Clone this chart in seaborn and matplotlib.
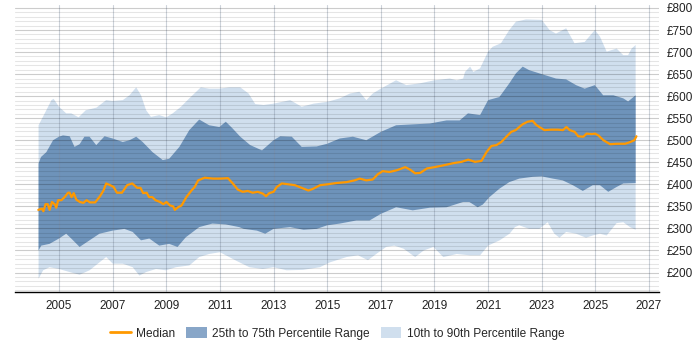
import numpy as np
import matplotlib
matplotlib.use("Agg")
import matplotlib.pyplot as plt
import seaborn as sns
from matplotlib.lines import Line2D
from matplotlib.patches import Patch
from matplotlib.ticker import MultipleLocator, FuncFormatter

# --- Data (decimal year, GBP) ---
p90_year = [2004.24, 2004.47, 2004.72, 2004.80, 2005.00, 2005.27, 2005.46, 2005.73, 2006.00, 2006.40,
            2006.76, 2007.00, 2007.38, 2007.63, 2007.88, 2008.06, 2008.25, 2008.43, 2008.74, 2009.00,
            2009.24, 2009.55, 2009.86, 2010.29, 2010.60, 2010.98, 2011.35, 2011.76, 2012.07, 2012.32,
            2012.63, 2013.00, 2013.62, 2014.05, 2014.49, 2015.00, 2015.47, 2015.85, 2016.20, 2016.46,
            2016.70, 2017.00, 2017.57, 2017.95, 2018.45, 2019.00, 2019.57, 2019.83, 2020.07, 2020.14,
            2020.33, 2020.45, 2020.70, 2021.00, 2021.17, 2021.48, 2021.79, 2022.04, 2022.41, 2023.00,
            2023.29, 2023.53, 2023.91, 2024.22, 2024.60, 2024.98, 2025.17, 2025.42, 2025.79, 2026.04,
            2026.22, 2026.35, 2026.50]
p90 = [534, 561, 591, 594, 576, 561, 561, 552, 568, 574,
       591, 589, 591, 602, 620, 602, 568, 553, 557, 552,
       561, 576, 595, 620, 617, 617, 620, 620, 606, 582,
       580, 583, 591, 576, 583, 587, 595, 606, 610, 591,
       606, 617, 636, 625, 629, 636, 640, 636, 640, 655,
       667, 655, 663, 701, 712, 720, 750, 769, 774, 773,
       750, 742, 754, 720, 723, 750, 735, 701, 708, 693,
       693, 708, 716]

p75_year = [2004.24, 2004.33, 2004.53, 2004.78, 2005.00, 2005.15, 2005.40, 2005.58, 2005.77, 2005.95,
            2006.14, 2006.39, 2006.70, 2007.00, 2007.38, 2007.63, 2007.88, 2008.12, 2008.49, 2008.87,
            2009.11, 2009.49, 2009.86, 2010.23, 2010.60, 2010.98, 2011.22, 2011.47, 2011.76, 2012.13,
            2012.57, 2013.00, 2013.25, 2013.68, 2014.05, 2014.61, 2015.00, 2015.47, 2015.96, 2016.46,
            2017.00, 2017.57, 2018.19, 2018.83, 2019.45, 2019.94, 2020.25, 2020.70, 2021.00, 2021.42,
            2021.79, 2022.04, 2022.29, 2022.53, 2023.00, 2023.53, 2023.91, 2024.28, 2024.60, 2024.98,
            2025.29, 2025.67, 2026.04, 2026.22, 2026.50]
p75 = [447, 462, 473, 500, 508, 511, 509, 485, 491, 508,
       508, 489, 509, 504, 496, 500, 508, 496, 473, 455,
       458, 485, 523, 547, 534, 530, 542, 527, 508, 489,
       477, 500, 509, 508, 485, 486, 492, 504, 508, 500,
       519, 534, 536, 538, 545, 545, 561, 557, 591, 598,
       629, 652, 667, 659, 650, 640, 638, 625, 617, 625,
       602, 602, 595, 588, 602]

p25_year = [2004.24, 2004.34, 2004.65, 2005.00, 2005.27, 2005.46, 2005.77, 2006.14, 2006.51, 2007.00,
            2007.44, 2007.75, 2008.06, 2008.37, 2008.74, 2009.11, 2009.42, 2009.73, 2010.23, 2010.72,
            2011.22, 2011.72, 2011.89, 2012.38, 2012.69, 2013.00, 2013.62, 2014.12, 2014.61, 2015.00,
            2015.47, 2016.09, 2016.58, 2017.00, 2017.57, 2018.19, 2018.83, 2019.45, 2020.07, 2020.30,
            2020.61, 2020.80, 2021.05, 2021.42, 2021.79, 2022.16, 2022.66, 2023.00, 2023.41, 2023.78,
            2024.16, 2024.53, 2024.90, 2025.17, 2025.48, 2025.79, 2026.04, 2026.50]
p25 = [250, 261, 265, 277, 288, 277, 258, 273, 288, 295,
       299, 292, 273, 277, 261, 265, 258, 280, 303, 311,
       309, 303, 299, 295, 288, 299, 303, 297, 299, 307,
       311, 318, 318, 333, 348, 341, 347, 348, 360, 360,
       348, 354, 371, 390, 405, 413, 417, 418, 413, 409,
       398, 385, 398, 398, 383, 394, 402, 403]

p10_year = [2004.24, 2004.41, 2004.65, 2005.00, 2005.40, 2005.77, 2006.14, 2006.51, 2006.76, 2007.01,
            2007.38, 2007.75, 2008.00, 2008.25, 2008.62, 2008.99, 2009.36, 2009.86, 2010.23, 2010.60,
            2011.00, 2011.35, 2011.60, 2012.10, 2012.60, 2013.00, 2013.49, 2014.10, 2014.73, 2015.10,
            2015.72, 2016.15, 2016.52, 2016.83, 2017.20, 2017.50, 2017.85, 2018.28, 2018.60, 2018.96,
            2019.33, 2019.83, 2020.33, 2020.70, 2021.00, 2021.43, 2021.80, 2022.00, 2022.16, 2022.53,
            2022.91, 2023.22, 2023.47, 2023.66, 2023.91, 2024.28, 2024.65, 2024.90, 2025.17, 2025.42,
            2025.79, 2026.04, 2026.29, 2026.50]
p10 = [186, 205, 212, 208, 201, 195, 205, 223, 235, 220,
       220, 212, 193, 201, 208, 205, 212, 216, 235, 242,
       246, 235, 227, 212, 208, 212, 205, 206, 212, 223,
       235, 239, 228, 242, 258, 261, 254, 235, 250, 258,
       235, 242, 239, 239, 261, 273, 288, 303, 307, 299,
       299, 314, 288, 279, 292, 288, 279, 284, 288, 284,
       312, 314, 303, 297]

median_year = [2004.23, 2004.36, 2004.42, 2004.50, 2004.58, 2004.65, 2004.74, 2004.84, 2004.90, 2004.97,
               2005.09, 2005.21, 2005.34, 2005.40, 2005.47, 2005.55, 2005.65, 2005.78, 2005.91, 2006.03,
               2006.16, 2006.35, 2006.53, 2006.66, 2006.76, 2006.91, 2007.04, 2007.16, 2007.35, 2007.54,
               2007.73, 2007.92, 2008.04, 2008.14, 2008.27, 2008.36, 2008.48, 2008.60, 2008.77, 2008.89,
               2009.01, 2009.14, 2009.26, 2009.32, 2009.44, 2009.57, 2009.75, 2009.94, 2010.06, 2010.19,
               2010.43, 2010.74, 2011.05, 2011.30, 2011.48, 2011.67, 2011.85, 2012.04, 2012.22, 2012.41,
               2012.60, 2012.72, 2012.84, 2013.00, 2013.12, 2013.31, 2013.56, 2013.80, 2014.05, 2014.30,
               2014.48, 2014.73, 2015.00, 2015.35, 2015.72, 2016.02, 2016.21, 2016.46, 2016.70, 2016.89,
               2017.07, 2017.32, 2017.60, 2017.91, 2018.10, 2018.28, 2018.47, 2018.72, 2019.00, 2019.33,
               2019.70, 2020.01, 2020.26, 2020.51, 2020.75, 2020.94, 2021.12, 2021.31, 2021.49, 2021.68,
               2021.86, 2022.03, 2022.28, 2022.47, 2022.66, 2022.79, 2022.91, 2023.10, 2023.35, 2023.60,
               2023.79, 2023.92, 2024.04, 2024.23, 2024.36, 2024.55, 2024.67, 2024.86, 2024.99, 2025.11,
               2025.30, 2025.55, 2025.80, 2026.11, 2026.30, 2026.45, 2026.53]
median = [342, 345, 339, 355, 355, 342, 360, 355, 347, 364,
          364, 371, 381, 381, 371, 380, 365, 360, 358, 364,
          359, 359, 373, 386, 402, 398, 394, 381, 381, 398,
          402, 392, 392, 380, 381, 371, 371, 364, 360, 355,
          360, 352, 350, 342, 348, 352, 371, 386, 394, 409,
          415, 413, 413, 414, 402, 388, 383, 385, 381, 383,
          379, 373, 380, 383, 394, 402, 400, 398, 392, 386,
          390, 398, 400, 403, 405, 409, 413, 409, 411, 423,
          430, 428, 432, 439, 433, 425, 426, 436, 439, 443,
          448, 451, 456, 451, 453, 473, 487, 489, 496, 508,
          519, 523, 536, 542, 544, 535, 530, 523, 524, 524,
          523, 530, 523, 519, 509, 508, 515, 514, 515, 511,
          500, 491, 492, 492, 496, 500, 509]

x_ticks = list(range(2005, 2028, 2))

LIGHT = "#d0dfee"
DARK = "#6e93ba"
ORANGE = "#ff9900"

sns.set_style("white")
plt.rcParams["font.family"] = ["Liberation Sans", "DejaVu Sans"]

fig, ax = plt.subplots(figsize=(7, 3.5), dpi=100)
fig.subplots_adjust(left=0.021, right=0.941, top=0.986, bottom=0.166)

# 10th-90th band as a polygon (upper edge forward, lower edge back)
ax.fill(np.concatenate([p90_year, p10_year[::-1]]),
        np.concatenate([p90, p10[::-1]]), color=LIGHT, lw=0, zorder=1)
# 25th-75th band
ax.fill(np.concatenate([p75_year, p25_year[::-1]]),
        np.concatenate([p75, p25[::-1]]), color=DARK, lw=0, zorder=1.1)

sns.lineplot(x=median_year, y=median, ax=ax, color=ORANGE, lw=1.6, zorder=4)

ax.set_xlim(2003.35, 2027.36)
ax.set_ylim(156, 807)
ax.set_xticks(x_ticks)
ax.yaxis.set_major_locator(MultipleLocator(50))
ax.yaxis.set_minor_locator(MultipleLocator(10))
ax.yaxis.set_major_formatter(FuncFormatter(lambda v, p: f"£{int(v)}" if v >= 200 else ""))
ax.yaxis.tick_right()

ax.set_axisbelow(False)
ax.grid(axis="x", which="major", color="#7d8ca0", alpha=0.38, lw=0.8)
ax.grid(axis="y", which="major", color="black", alpha=0.2, lw=0.8)
ax.grid(axis="y", which="minor", color="black", alpha=0.1, lw=0.8)

for side in ["left", "top", "right"]:
    ax.spines[side].set_visible(False)
ax.spines["bottom"].set_color("black")
ax.spines["bottom"].set_linewidth(1.0)

ax.tick_params(axis="x", length=4, width=0.8, color="#555555", labelsize=8.5, pad=2, labelcolor="#222222")
ax.tick_params(axis="y", which="both", length=0, labelsize=8.5, pad=5.5, labelcolor="#222222")
ax.set_xlabel("")
ax.set_ylabel("")

handles = [
    Line2D([0], [0], color=ORANGE, lw=2),
    Patch(facecolor="#88a6c8", edgecolor="none"),
    Patch(facecolor=LIGHT, edgecolor="none"),
]
labels = ["Median", "25th to 75th Percentile Range", "10th to 90th Percentile Range"]
fig.legend(handles, labels, loc="center", bbox_to_anchor=(0.482, 0.047), ncol=3,
           frameon=False, fontsize=8.6, handlelength=1.7, handleheight=0.95,
           columnspacing=0.95, handletextpad=0.45)

fig.savefig("out.png", dpi=100)
